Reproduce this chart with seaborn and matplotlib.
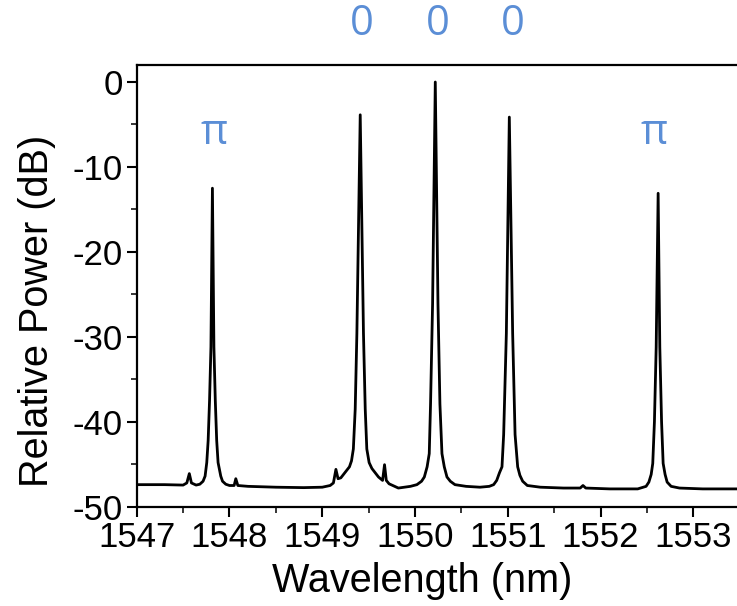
import matplotlib
matplotlib.use("Agg")
import matplotlib.pyplot as plt
import seaborn as sns
import pandas as pd
from matplotlib.ticker import MultipleLocator

# Spectrum (wavelength in nm, relative power in dB)
wavelength = [
    1547.00, 1547.30, 1547.50, 1547.54, 1547.567, 1547.59, 1547.64, 1547.68,
    1547.715, 1547.737, 1547.755, 1547.77, 1547.785, 1547.80, 1547.816,
    1547.832, 1547.847, 1547.862, 1547.877, 1547.906, 1547.925, 1547.96,
    1548.00, 1548.05, 1548.068, 1548.09, 1548.20, 1548.50, 1548.80, 1549.00,
    1549.085, 1549.12, 1549.147, 1549.17, 1549.20, 1549.25, 1549.293, 1549.315,
    1549.335, 1549.355, 1549.373, 1549.409, 1549.444, 1549.463, 1549.48,
    1549.505, 1549.535, 1549.606, 1549.65, 1549.671, 1549.69, 1549.72, 1549.82,
    1549.95, 1550.02, 1550.07, 1550.10, 1550.13, 1550.153, 1550.167, 1550.189,
    1550.218, 1550.247, 1550.268, 1550.29, 1550.315, 1550.344, 1550.38, 1550.43,
    1550.55, 1550.70, 1550.80, 1550.847, 1550.88, 1550.91, 1550.937, 1550.955,
    1550.984, 1551.016, 1551.052, 1551.078, 1551.106, 1551.13, 1551.16, 1551.21,
    1551.35, 1551.60, 1551.78, 1551.81, 1551.84, 1552.10, 1552.40, 1552.49,
    1552.52, 1552.545, 1552.562, 1552.58, 1552.599, 1552.62, 1552.638, 1552.657,
    1552.674, 1552.695, 1552.717, 1552.76, 1552.85, 1553.10, 1553.50,
]
power = [
    -47.4, -47.4, -47.45, -47.2, -46.1, -47.2, -47.45, -47.35,
    -47.0, -46.4, -44.8, -42.2, -37.5, -31.2, -12.5,
    -31.2, -37.5, -42.2, -44.8, -46.4, -47.0, -47.35,
    -47.5, -47.5, -46.7, -47.5, -47.6, -47.7, -47.75, -47.7,
    -47.5, -47.2, -45.6, -46.7, -46.6, -45.9, -45.3, -44.6,
    -43.2, -38.5, -29.6, -3.86, -29.6, -38.5, -43.2,
    -44.8, -45.5, -46.5, -46.9, -45.05, -46.9, -47.3, -47.8,
    -47.6, -47.4, -47.0, -46.5, -45.3, -43.75, -37.9, -26.1,
    0.0, -26.1, -37.9, -43.75, -45.3, -46.5, -47.0, -47.4,
    -47.6, -47.7, -47.6, -47.4, -46.9, -46.0, -45.3, -41.5,
    -29.6, -4.13, -29.6, -41.5, -45.3, -46.3, -47.0, -47.5,
    -47.7, -47.8, -47.8, -47.5, -47.8, -47.9, -47.9, -47.6,
    -47.1, -46.2, -44.9, -40.0, -31.2, -13.1, -31.2, -40.0,
    -44.9, -46.2, -47.1, -47.6, -47.8, -47.9, -47.9,
]

# Phase annotations
phase_labels = ["π", "0", "0", "0", "π"]
phase_x = [1547.83, 1549.43, 1550.24, 1551.05, 1552.58]
phase_y = [-6.0, 6.8, 6.8, 6.8, -6.0]

x_ticks = [1547, 1548, 1549, 1550, 1551, 1552, 1553]
y_ticks = [-50, -40, -30, -20, -10, 0]

sns.set_style("ticks")
plt.rcParams["font.family"] = ["Liberation Sans", "DejaVu Sans"]
plt.rcParams["axes.unicode_minus"] = False

fig = plt.figure(figsize=(7.37, 6.06), dpi=100)
ax = fig.add_axes([0.1855, 0.1638, 0.8145, 0.7289])

df = pd.DataFrame({"wavelength": wavelength, "power": power})
sns.lineplot(data=df, x="wavelength", y="power", sort=False, color="black",
             linewidth=2.0, ax=ax, estimator=None)

ax.set_xlim(1547, 1553.47)
ax.set_ylim(-50, 2)
ax.set_xticks(x_ticks)
ax.set_yticks(y_ticks)
ax.xaxis.set_minor_locator(MultipleLocator(0.5))
ax.yaxis.set_minor_locator(MultipleLocator(5))
ax.tick_params(which="major", direction="out", length=7, width=1.5,
               labelsize=25, pad=3, colors="black")
ax.tick_params(which="minor", direction="out", length=4, width=1.3)

for side in ["left", "bottom", "top"]:
    ax.spines[side].set_linewidth(1.6)
    ax.spines[side].set_color("black")
ax.spines["right"].set_visible(False)

ax.set_xlabel("Wavelength (nm)", fontsize=28.5, color="black")
ax.set_ylabel("Relative Power (dB)", fontsize=28.5, color="black")
ax.xaxis.set_label_coords(0.475, -0.125)
ax.yaxis.set_label_coords(-0.134, 0.443)

for lab, x, y in zip(phase_labels, phase_x, phase_y):
    ax.text(x, y, lab, color="#5B8ED6", fontsize=30, ha="center", va="center",
            family=["Open Sans", "DejaVu Sans"], clip_on=False)

fig.savefig("out.png", dpi=100)
